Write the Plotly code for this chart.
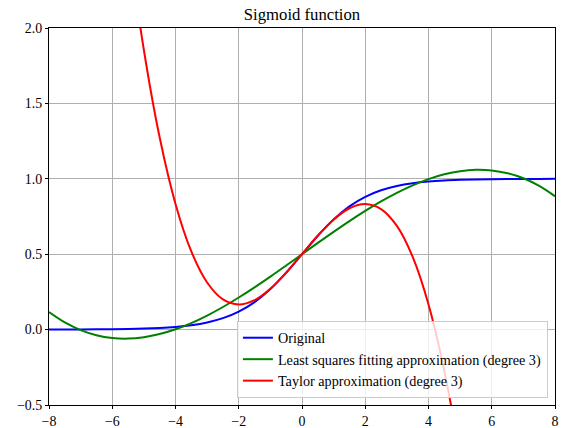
import plotly.graph_objects as go

x_vals = [-8, -7.5, -7, -6.5, -6, -5.5, -5, -4.5, -4, -3.5, -3, -2.5, -2, -1.5, -1, -0.5, 0,
          0.5, 1, 1.5, 2, 2.5, 3, 3.5, 4, 4.5, 5, 5.5, 6, 6.5, 7, 7.5, 8]

original = [0.000335, 0.000553, 0.000911, 0.001501, 0.002473, 0.004070, 0.006693, 0.010987,
            0.017986, 0.029312, 0.047426, 0.075858, 0.119203, 0.182426, 0.268941, 0.377541, 0.5,
            0.622459, 0.731059, 0.817574, 0.880797, 0.924142, 0.952574, 0.970688, 0.982014,
            0.989013, 0.993307, 0.995930, 0.997527, 0.998499, 0.999089, 0.999447, 0.999665]

least_squares = [0.1161, 0.0475, -0.0033, -0.0372, -0.0557, -0.0598, -0.0507, -0.0297,
                 0.002, 0.0433, 0.093, 0.1499, 0.2128, 0.2804, 0.3516, 0.4252, 0.5,
                 0.5748, 0.6484, 0.7196, 0.7872, 0.8501, 0.907, 0.9567, 0.998,
                 1.0297, 1.0507, 1.0598, 1.0557, 1.0372, 1.0033, 0.9525, 0.8839]

taylor = [9.1667, 7.4141, 5.8958, 4.5964, 3.5, 2.5911, 1.8542, 1.2734,
          0.8333, 0.5182, 0.3125, 0.2005, 0.1667, 0.1953, 0.2708, 0.3776, 0.5,
          0.6224, 0.7292, 0.8047, 0.8333, 0.7995, 0.6875, 0.4818, 0.1667,
          -0.2734, -0.8542, -1.5911, -2.5, -3.5964, -4.8958, -6.4141, -8.1667]

x_ticks = [-8, -6, -4, -2, 0, 2, 4, 6, 8]
y_ticks = [-0.5, 0.0, 0.5, 1.0, 1.5, 2.0]

font_family = "Liberation Serif"

fig = go.Figure()
fig.add_trace(go.Scatter(x=x_vals, y=original, mode="lines", name="Original",
                         line=dict(color="#0000ff", width=2, shape="spline")))
fig.add_trace(go.Scatter(x=x_vals, y=least_squares, mode="lines",
                         name="Least squares fitting approximation (degree 3)",
                         line=dict(color="#008000", width=2, shape="spline")))
fig.add_trace(go.Scatter(x=x_vals, y=taylor, mode="lines",
                         name="Taylor approximation (degree 3)",
                         line=dict(color="#ff0000", width=2, shape="spline")))

axis_common = dict(showgrid=True, gridcolor="#b0b0b0", gridwidth=1,
                   showline=True, linecolor="black", linewidth=1, mirror=True,
                   ticks="outside", ticklen=3, tickcolor="black", zeroline=False,
                   automargin=False,
                   tickfont=dict(family=font_family, size=13.9, color="black"))

fig.update_layout(
    width=561, height=428,
    margin=dict(l=49, r=6, t=28, b=23),
    paper_bgcolor="white", plot_bgcolor="white",
    font=dict(family=font_family, color="black"),
    title=dict(text="Sigmoid function", x=0.5, xref="paper", xanchor="center",
               y=1 - 14 / 428, yref="container", yanchor="middle",
               font=dict(family=font_family, size=16.7, color="black")),
    xaxis=dict(range=[-8, 8], tickvals=x_ticks, **axis_common),
    yaxis=dict(range=[-0.5, 2.0], tickvals=y_ticks, tickformat=".1f", **axis_common),
    legend=dict(x=0.986, y=0.0186, xanchor="right", yanchor="bottom",
                bgcolor="rgba(255,255,255,0.8)", bordercolor="#cccccc", borderwidth=1,
                font=dict(family=font_family, size=14.2, color="black"),
                tracegroupgap=0),
    showlegend=True,
)

fig.write_html("out.html", config={"displayModeBar": False},
               post_script="document.body.style.margin='0px';")
